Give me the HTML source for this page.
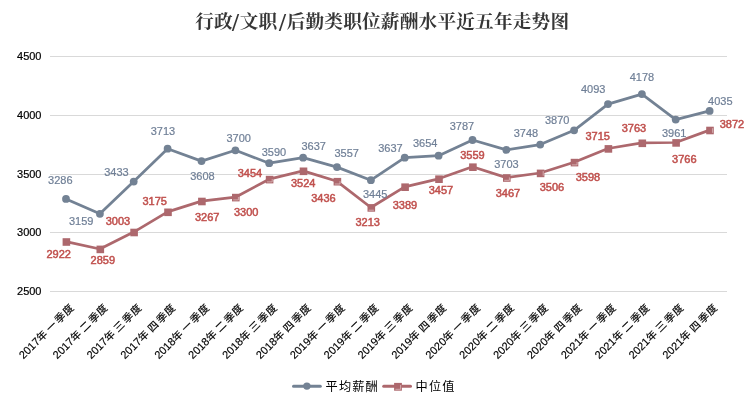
<!DOCTYPE html>
<html lang="zh-CN"><head><meta charset="utf-8"><title>行政/文职/后勤类职位薪酬水平近五年走势图</title>
<style>
html,body{margin:0;padding:0;background:#fff;}
body{width:751px;height:400px;overflow:hidden;}
svg{display:block;}
.ax{font-family:"Liberation Sans","Noto Sans CJK SC",sans-serif;font-size:11px;fill:#000;stroke:#000;stroke-width:0.2px;}
.ttl{font-family:"Liberation Serif","Noto Serif CJK SC",serif;font-weight:bold;font-size:18.67px;fill:#363636;}
.la{font-family:"Liberation Sans","Noto Sans CJK SC",sans-serif;font-size:11px;fill:#6f7f96;stroke:#6f7f96;stroke-width:0.2px;text-anchor:middle;}
.lm{font-family:"Liberation Sans","Noto Sans CJK SC",sans-serif;font-size:11px;fill:#c0504d;stroke:#c0504d;stroke-width:0.5px;text-anchor:middle;}
.cat{font-family:"Liberation Sans","Noto Sans CJK SC",sans-serif;font-size:11px;fill:#000;stroke:#000;stroke-width:0.15px;text-anchor:end;}
.cat .d{font-size:11px;}
.cat .c{font-size:10.4px;}
.lg{font-family:"Liberation Sans","Noto Sans CJK SC",sans-serif;font-size:12.2px;letter-spacing:1.13px;fill:#000;}
</style></head><body>
<svg width="751" height="400" viewBox="0 0 751 400">
<rect width="751" height="400" fill="#fff"/>

<text class="ttl" y="28"><tspan x="195.3">行政</tspan><tspan x="232" y="30.8" font-size="25">/</tspan><tspan x="239.8" y="28">文职</tspan><tspan x="279" y="30.8" font-size="25">/</tspan><tspan x="286.7" y="28" letter-spacing="0.18">后勤类职位薪酬水平近五年走势图</tspan></text>
<line x1="50.0" y1="56.50" x2="727.0" y2="56.50" stroke="#d9d9d9" stroke-width="1" shape-rendering="crispEdges"/>
<text class="ax" x="41.5" y="60.0" text-anchor="end">4500</text>
<line x1="50.0" y1="115.50" x2="727.0" y2="115.50" stroke="#d9d9d9" stroke-width="1" shape-rendering="crispEdges"/>
<text class="ax" x="41.5" y="119.0" text-anchor="end">4000</text>
<line x1="50.0" y1="174.50" x2="727.0" y2="174.50" stroke="#d9d9d9" stroke-width="1" shape-rendering="crispEdges"/>
<text class="ax" x="41.5" y="178.0" text-anchor="end">3500</text>
<line x1="50.0" y1="232.50" x2="727.0" y2="232.50" stroke="#d9d9d9" stroke-width="1" shape-rendering="crispEdges"/>
<text class="ax" x="41.5" y="236.0" text-anchor="end">3000</text>
<line x1="50.0" y1="291.50" x2="727.0" y2="291.50" stroke="#d9d9d9" stroke-width="1" shape-rendering="crispEdges"/>
<text class="ax" x="41.5" y="295.0" text-anchor="end">2500</text>
<polyline points="66.0,198.9 99.9,213.8 133.7,181.6 167.6,148.7 201.5,161.1 235.4,150.3 269.2,163.2 303.1,157.7 337.0,167.1 370.9,180.2 404.7,157.7 438.6,155.7 472.5,140.0 506.4,149.9 540.2,144.6 574.1,130.3 608.0,104.1 641.9,94.1 675.7,119.6 709.6,110.9" fill="none" stroke="#738294" stroke-width="2.75" stroke-linejoin="round" stroke-linecap="round"/>
<circle cx="66.0" cy="198.9" r="3.9" fill="#738294"/>
<circle cx="99.9" cy="213.8" r="3.9" fill="#738294"/>
<circle cx="133.7" cy="181.6" r="3.9" fill="#738294"/>
<circle cx="167.6" cy="148.7" r="3.9" fill="#738294"/>
<circle cx="201.5" cy="161.1" r="3.9" fill="#738294"/>
<circle cx="235.4" cy="150.3" r="3.9" fill="#738294"/>
<circle cx="269.2" cy="163.2" r="3.9" fill="#738294"/>
<circle cx="303.1" cy="157.7" r="3.9" fill="#738294"/>
<circle cx="337.0" cy="167.1" r="3.9" fill="#738294"/>
<circle cx="370.9" cy="180.2" r="3.9" fill="#738294"/>
<circle cx="404.7" cy="157.7" r="3.9" fill="#738294"/>
<circle cx="438.6" cy="155.7" r="3.9" fill="#738294"/>
<circle cx="472.5" cy="140.0" r="3.9" fill="#738294"/>
<circle cx="506.4" cy="149.9" r="3.9" fill="#738294"/>
<circle cx="540.2" cy="144.6" r="3.9" fill="#738294"/>
<circle cx="574.1" cy="130.3" r="3.9" fill="#738294"/>
<circle cx="608.0" cy="104.1" r="3.9" fill="#738294"/>
<circle cx="641.9" cy="94.1" r="3.9" fill="#738294"/>
<circle cx="675.7" cy="119.6" r="3.9" fill="#738294"/>
<circle cx="709.6" cy="110.9" r="3.9" fill="#738294"/>
<polyline points="66.0,241.6 99.9,249.0 133.7,232.1 167.6,211.9 201.5,201.1 235.4,197.2 269.2,179.2 303.1,170.9 337.0,181.3 370.9,207.5 404.7,186.8 438.6,178.8 472.5,166.8 506.4,177.6 540.2,173.0 574.1,162.2 608.0,148.5 641.9,142.9 675.7,142.5 709.6,130.1" fill="none" stroke="#ad686d" stroke-width="2.75" stroke-linejoin="round" stroke-linecap="round"/>
<rect x="62.6" y="238.2" width="7.6" height="7.6" fill="#ad686d"/>
<rect x="96.5" y="245.6" width="7.6" height="7.6" fill="#ad686d"/>
<rect x="130.3" y="228.7" width="7.6" height="7.6" fill="#ad686d"/>
<rect x="164.2" y="208.5" width="7.6" height="7.6" fill="#ad686d"/>
<rect x="198.1" y="197.7" width="7.6" height="7.6" fill="#ad686d"/>
<rect x="232.0" y="193.8" width="7.6" height="7.6" fill="#ad686d"/>
<polyline points="233.2,199.9 238.4,199.9 238.4,197.0" fill="none" stroke="#ecd6d8" stroke-width="0.6"/>
<rect x="265.8" y="175.8" width="7.6" height="7.6" fill="#ad686d"/>
<polyline points="267.0,181.9 272.2,181.9 272.2,179.0" fill="none" stroke="#ecd6d8" stroke-width="0.6"/>
<rect x="299.7" y="167.5" width="7.6" height="7.6" fill="#ad686d"/>
<rect x="333.6" y="177.9" width="7.6" height="7.6" fill="#ad686d"/>
<polyline points="334.8,184.0 340.0,184.0 340.0,181.1" fill="none" stroke="#ecd6d8" stroke-width="0.6"/>
<rect x="367.5" y="204.1" width="7.6" height="7.6" fill="#ad686d"/>
<polyline points="368.7,210.2 373.9,210.2" fill="none" stroke="#ecd6d8" stroke-width="0.6"/>
<rect x="401.3" y="183.4" width="7.6" height="7.6" fill="#ad686d"/>
<rect x="435.2" y="175.4" width="7.6" height="7.6" fill="#ad686d"/>
<rect x="469.1" y="163.4" width="7.6" height="7.6" fill="#ad686d"/>
<rect x="503.0" y="174.2" width="7.6" height="7.6" fill="#ad686d"/>
<polyline points="504.2,180.3 509.4,180.3 509.4,177.4" fill="none" stroke="#ecd6d8" stroke-width="0.6"/>
<rect x="536.8" y="169.6" width="7.6" height="7.6" fill="#ad686d"/>
<polyline points="543.2,175.7 543.2,171.1" fill="none" stroke="#ecd6d8" stroke-width="0.6"/>
<rect x="570.7" y="158.8" width="7.6" height="7.6" fill="#ad686d"/>
<polyline points="571.9,164.9 577.1,164.9 577.1,162.0" fill="none" stroke="#ecd6d8" stroke-width="0.6"/>
<rect x="604.6" y="145.1" width="7.6" height="7.6" fill="#ad686d"/>
<rect x="638.5" y="139.5" width="7.6" height="7.6" fill="#ad686d"/>
<rect x="672.3" y="139.1" width="7.6" height="7.6" fill="#ad686d"/>
<rect x="706.2" y="126.7" width="7.6" height="7.6" fill="#ad686d"/>
<polyline points="712.6,132.8 712.6,128.2" fill="none" stroke="#ecd6d8" stroke-width="0.6"/>
<text class="la" x="60.3" y="184.0">3286</text>
<text class="la" x="81.2" y="225.2">3159</text>
<text class="la" x="116.5" y="175.7">3433</text>
<text class="la" x="163.0" y="135.2">3713</text>
<text class="la" x="202.5" y="180.2">3608</text>
<text class="la" x="238.7" y="141.6">3700</text>
<text class="la" x="274.0" y="155.9">3590</text>
<text class="la" x="313.7" y="149.5">3637</text>
<text class="la" x="346.7" y="157.0">3557</text>
<text class="la" x="375.2" y="198.2">3445</text>
<text class="la" x="390.5" y="152.1">3637</text>
<text class="la" x="425.2" y="147.1">3654</text>
<text class="la" x="462.0" y="130.2">3787</text>
<text class="la" x="506.4" y="167.7">3703</text>
<text class="la" x="526.0" y="137.0">3748</text>
<text class="la" x="557.2" y="123.5">3870</text>
<text class="la" x="593.2" y="92.9">4093</text>
<text class="la" x="642.0" y="80.9">4178</text>
<text class="la" x="674.2" y="137.1">3961</text>
<text class="la" x="720.3" y="104.5">4035</text>
<text class="lm" x="58.7" y="257.8">2922</text>
<text class="lm" x="102.8" y="264.2">2859</text>
<text class="lm" x="118.0" y="225.2">3003</text>
<text class="lm" x="154.7" y="204.6">3175</text>
<text class="lm" x="207.2" y="220.7">3267</text>
<text class="lm" x="246.2" y="215.5">3300</text>
<text class="lm" x="250.0" y="176.5">3454</text>
<text class="lm" x="303.2" y="187.0">3524</text>
<text class="lm" x="323.5" y="202.0">3436</text>
<text class="lm" x="367.7" y="225.6">3213</text>
<text class="lm" x="405.0" y="209.0">3389</text>
<text class="lm" x="441.0" y="194.3">3457</text>
<text class="lm" x="472.5" y="159.1">3559</text>
<text class="lm" x="508.0" y="196.6">3467</text>
<text class="lm" x="552.0" y="190.6">3506</text>
<text class="lm" x="588.0" y="181.3">3598</text>
<text class="lm" x="597.7" y="140.1">3715</text>
<text class="lm" x="634.0" y="132.2">3763</text>
<text class="lm" x="684.3" y="163.3">3766</text>
<text class="lm" x="732.0" y="128.1">3872</text>
<text class="cat" transform="translate(74.3,308.7) rotate(-45)"><tspan class="d">2017</tspan><tspan class="c">年</tspan><tspan class="c" dx="3.1">一</tspan><tspan class="c" dx="2.1">季</tspan><tspan class="c" dx="0.7">度</tspan></text>
<text class="cat" transform="translate(108.2,308.7) rotate(-45)"><tspan class="d">2017</tspan><tspan class="c">年</tspan><tspan class="c" dx="3.1">二</tspan><tspan class="c" dx="2.1">季</tspan><tspan class="c" dx="0.7">度</tspan></text>
<text class="cat" transform="translate(142.0,308.7) rotate(-45)"><tspan class="d">2017</tspan><tspan class="c">年</tspan><tspan class="c" dx="3.1">三</tspan><tspan class="c" dx="2.1">季</tspan><tspan class="c" dx="0.7">度</tspan></text>
<text class="cat" transform="translate(175.9,308.7) rotate(-45)"><tspan class="d">2017</tspan><tspan class="c">年</tspan><tspan class="c" dx="3.1">四</tspan><tspan class="c" dx="2.1">季</tspan><tspan class="c" dx="0.7">度</tspan></text>
<text class="cat" transform="translate(209.8,308.7) rotate(-45)"><tspan class="d">2018</tspan><tspan class="c">年</tspan><tspan class="c" dx="3.1">一</tspan><tspan class="c" dx="2.1">季</tspan><tspan class="c" dx="0.7">度</tspan></text>
<text class="cat" transform="translate(243.7,308.7) rotate(-45)"><tspan class="d">2018</tspan><tspan class="c">年</tspan><tspan class="c" dx="3.1">二</tspan><tspan class="c" dx="2.1">季</tspan><tspan class="c" dx="0.7">度</tspan></text>
<text class="cat" transform="translate(277.5,308.7) rotate(-45)"><tspan class="d">2018</tspan><tspan class="c">年</tspan><tspan class="c" dx="3.1">三</tspan><tspan class="c" dx="2.1">季</tspan><tspan class="c" dx="0.7">度</tspan></text>
<text class="cat" transform="translate(311.4,308.7) rotate(-45)"><tspan class="d">2018</tspan><tspan class="c">年</tspan><tspan class="c" dx="3.1">四</tspan><tspan class="c" dx="2.1">季</tspan><tspan class="c" dx="0.7">度</tspan></text>
<text class="cat" transform="translate(345.3,308.7) rotate(-45)"><tspan class="d">2019</tspan><tspan class="c">年</tspan><tspan class="c" dx="3.1">一</tspan><tspan class="c" dx="2.1">季</tspan><tspan class="c" dx="0.7">度</tspan></text>
<text class="cat" transform="translate(379.2,308.7) rotate(-45)"><tspan class="d">2019</tspan><tspan class="c">年</tspan><tspan class="c" dx="3.1">二</tspan><tspan class="c" dx="2.1">季</tspan><tspan class="c" dx="0.7">度</tspan></text>
<text class="cat" transform="translate(413.0,308.7) rotate(-45)"><tspan class="d">2019</tspan><tspan class="c">年</tspan><tspan class="c" dx="3.1">三</tspan><tspan class="c" dx="2.1">季</tspan><tspan class="c" dx="0.7">度</tspan></text>
<text class="cat" transform="translate(446.9,308.7) rotate(-45)"><tspan class="d">2019</tspan><tspan class="c">年</tspan><tspan class="c" dx="3.1">四</tspan><tspan class="c" dx="2.1">季</tspan><tspan class="c" dx="0.7">度</tspan></text>
<text class="cat" transform="translate(480.8,308.7) rotate(-45)"><tspan class="d">2020</tspan><tspan class="c">年</tspan><tspan class="c" dx="3.1">一</tspan><tspan class="c" dx="2.1">季</tspan><tspan class="c" dx="0.7">度</tspan></text>
<text class="cat" transform="translate(514.7,308.7) rotate(-45)"><tspan class="d">2020</tspan><tspan class="c">年</tspan><tspan class="c" dx="3.1">二</tspan><tspan class="c" dx="2.1">季</tspan><tspan class="c" dx="0.7">度</tspan></text>
<text class="cat" transform="translate(548.5,308.7) rotate(-45)"><tspan class="d">2020</tspan><tspan class="c">年</tspan><tspan class="c" dx="3.1">三</tspan><tspan class="c" dx="2.1">季</tspan><tspan class="c" dx="0.7">度</tspan></text>
<text class="cat" transform="translate(582.4,308.7) rotate(-45)"><tspan class="d">2020</tspan><tspan class="c">年</tspan><tspan class="c" dx="3.1">四</tspan><tspan class="c" dx="2.1">季</tspan><tspan class="c" dx="0.7">度</tspan></text>
<text class="cat" transform="translate(616.3,308.7) rotate(-45)"><tspan class="d">2021</tspan><tspan class="c">年</tspan><tspan class="c" dx="3.1">一</tspan><tspan class="c" dx="2.1">季</tspan><tspan class="c" dx="0.7">度</tspan></text>
<text class="cat" transform="translate(650.2,308.7) rotate(-45)"><tspan class="d">2021</tspan><tspan class="c">年</tspan><tspan class="c" dx="3.1">二</tspan><tspan class="c" dx="2.1">季</tspan><tspan class="c" dx="0.7">度</tspan></text>
<text class="cat" transform="translate(684.0,308.7) rotate(-45)"><tspan class="d">2021</tspan><tspan class="c">年</tspan><tspan class="c" dx="3.1">三</tspan><tspan class="c" dx="2.1">季</tspan><tspan class="c" dx="0.7">度</tspan></text>
<text class="cat" transform="translate(717.9,308.7) rotate(-45)"><tspan class="d">2021</tspan><tspan class="c">年</tspan><tspan class="c" dx="3.1">四</tspan><tspan class="c" dx="2.1">季</tspan><tspan class="c" dx="0.7">度</tspan></text>
<line x1="293.5" y1="386.2" x2="320.3" y2="386.2" stroke="#738294" stroke-width="3" stroke-linecap="round"/>
<circle cx="306.9" cy="386.1" r="3.7" fill="#738294"/>
<text class="lg" x="325.6" y="391.2">平均薪酬</text>
<line x1="383.7" y1="386.2" x2="410.5" y2="386.2" stroke="#ad686d" stroke-width="3" stroke-linecap="round"/>
<rect x="394.1" y="382.9" width="7.8" height="7.8" fill="#ad686d"/>
<polyline points="395.4,389.3 400.6,389.3 400.6,385" fill="none" stroke="#ecd6d8" stroke-width="0.6"/>
<text class="lg" x="415.6" y="391.2">中位值</text>
</svg></body></html>
